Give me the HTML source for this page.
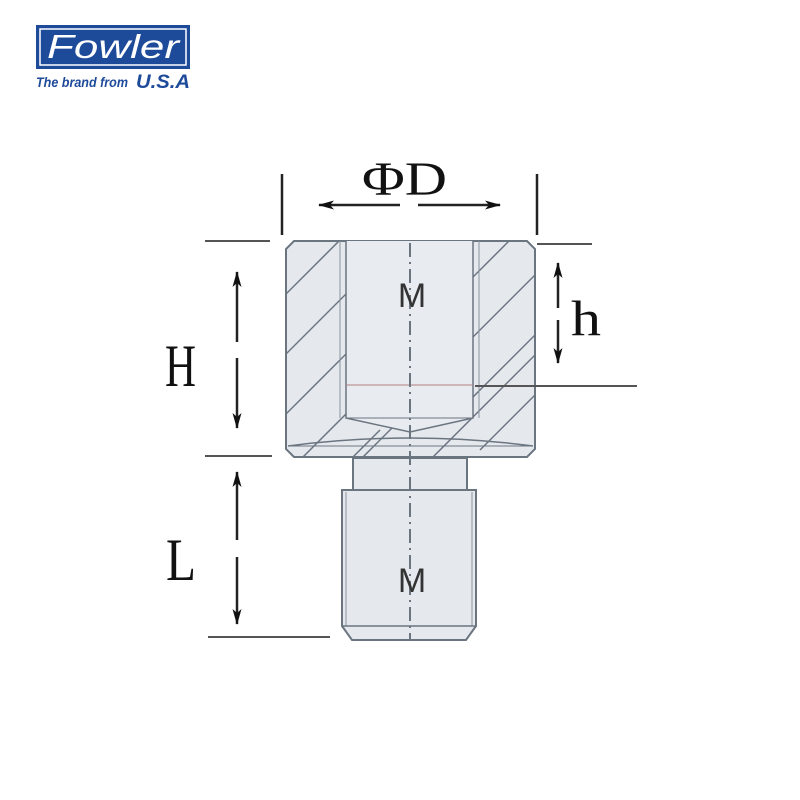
<!DOCTYPE html>
<html><head><style>html,body{margin:0;padding:0;background:#fff;}svg{display:block}</style></head>
<body>
<svg width="800" height="800" viewBox="0 0 800 800" xmlns="http://www.w3.org/2000/svg">
<defs>
<clipPath id="walls">
<path d="M294 241 L527 241 L535 249 L535 449 L527 457 L294 457 L286 449 L286 249 Z M346 241 L346 418 L410 432 L473 418 L473 241 Z" clip-rule="evenodd"/>
</clipPath>
<marker id="ah" viewBox="0 0 16 10" refX="15" refY="5" markerWidth="16" markerHeight="10" markerUnits="userSpaceOnUse" orient="auto">
<path d="M0 0.5 L16 5 L0 9.5 L4 5 Z" fill="#111"/></marker>
</defs>
<!-- logo -->
<rect x="36" y="25" width="154" height="44" fill="#1e4a9a"/>
<rect x="40" y="29" width="146" height="36" fill="none" stroke="#fff" stroke-width="1.5"/>
<text x="113" y="58" font-family="Liberation Sans, sans-serif" font-size="33" font-style="italic" fill="#fff" text-anchor="middle" textLength="132" lengthAdjust="spacingAndGlyphs">Fowler</text>
<text x="36" y="87" font-family="Liberation Sans, sans-serif" font-size="14" font-weight="bold" font-style="italic" fill="#1e4a9a" textLength="92" lengthAdjust="spacingAndGlyphs">The brand from</text>
<text x="136" y="88" font-family="Liberation Sans, sans-serif" font-size="19" font-weight="bold" font-style="italic" fill="#1e4a9a" textLength="54" lengthAdjust="spacingAndGlyphs">U.S.A</text>

<!-- upper body -->
<path d="M294 241 L527 241 L535 249 L535 449 L527 457 L294 457 L286 449 L286 249 Z" fill="#e5e9ee" stroke="#6b7580" stroke-width="2"/>
<g clip-path="url(#walls)" stroke="#6b7580" stroke-width="1.5">
<line x1="260" y1="320" x2="360" y2="220"/><line x1="260" y1="380" x2="380" y2="260"/>
<line x1="260" y1="440" x2="400" y2="300"/><line x1="260" y1="500" x2="420" y2="340"/>
<line x1="300" y1="520" x2="440" y2="380"/><line x1="450" y1="300" x2="560" y2="190"/>
<line x1="450" y1="360" x2="580" y2="230"/><line x1="450" y1="420" x2="580" y2="290"/>
<line x1="480" y1="450" x2="600" y2="330"/><line x1="420" y1="470" x2="560" y2="330"/>
<line x1="340" y1="470" x2="380" y2="430"/>
</g>
<path d="M346 241 L346 418 L410 432 L473 418 L473 241" fill="#e8ecf0" stroke="#6b7580" stroke-width="1.5"/>
<line x1="340" y1="241" x2="340" y2="418" stroke="#8a939c" stroke-width="1"/>
<line x1="479" y1="241" x2="479" y2="418" stroke="#8a939c" stroke-width="1"/>
<line x1="346" y1="418" x2="473" y2="418" stroke="#6b7580" stroke-width="1"/>
<line x1="346" y1="385" x2="473" y2="385" stroke="#b08080" stroke-width="1"/>
<path d="M288 446 Q410 430 533 446" fill="none" stroke="#6b7580" stroke-width="1.5"/>
<line x1="288" y1="446" x2="533" y2="446" stroke="#6b7580" stroke-width="1"/>
<!-- neck -->
<rect x="353" y="458" width="114" height="32" fill="#e5e9ee" stroke="#6b7580" stroke-width="2"/>
<!-- lower body -->
<path d="M342 490 L476 490 L476 626 L466 640 L352 640 L342 626 Z" fill="#e5e9ee" stroke="#6b7580" stroke-width="2"/>
<line x1="346" y1="492" x2="346" y2="626" stroke="#8a939c"/>
<line x1="472" y1="492" x2="472" y2="626" stroke="#8a939c"/>
<line x1="342" y1="626" x2="476" y2="626" stroke="#6b7580" stroke-width="1.5"/>
<!-- center line -->
<line x1="410" y1="243" x2="410" y2="640" stroke="#6b7580" stroke-width="2" stroke-dasharray="14 5 2 5"/>
<text x="412" y="307" font-family="Liberation Sans, sans-serif" font-size="34" fill="#333" text-anchor="middle">M</text>
<text x="412" y="592" font-family="Liberation Sans, sans-serif" font-size="34" fill="#333" text-anchor="middle">M</text>

<!-- dimensions -->
<g stroke="#222" stroke-width="2.5" fill="none">
<line x1="282" y1="174" x2="282" y2="235"/><line x1="537" y1="174" x2="537" y2="235"/>
<line x1="400" y1="205" x2="319" y2="205" marker-end="url(#ah)"/>
<line x1="418" y1="205" x2="500" y2="205" marker-end="url(#ah)"/>
<line x1="237" y1="342" x2="237" y2="272" marker-end="url(#ah)"/>
<line x1="237" y1="358" x2="237" y2="428" marker-end="url(#ah)"/>
<line x1="237" y1="540" x2="237" y2="472" marker-end="url(#ah)"/>
<line x1="237" y1="557" x2="237" y2="624" marker-end="url(#ah)"/>
<line x1="558" y1="308" x2="558" y2="263" marker-end="url(#ah)"/>
<line x1="558" y1="320" x2="558" y2="363" marker-end="url(#ah)"/>
</g>
<g stroke="#555" stroke-width="2">
<line x1="205" y1="241" x2="270" y2="241"/><line x1="205" y1="456" x2="272" y2="456"/>
<line x1="208" y1="637" x2="330" y2="637"/>
<line x1="537" y1="244" x2="592" y2="244"/><line x1="475" y1="386" x2="637" y2="386"/>
</g>
<g font-family="Liberation Serif, serif" fill="#111">
<text x="362" y="195" font-size="48" textLength="85" lengthAdjust="spacingAndGlyphs">ΦD</text>
<text x="165" y="386" font-size="60" textLength="31" lengthAdjust="spacingAndGlyphs">H</text>
<text x="166" y="580" font-size="60" textLength="30" lengthAdjust="spacingAndGlyphs">L</text>
<text x="571" y="335" font-size="50" textLength="30" lengthAdjust="spacingAndGlyphs">h</text>
</g>
</svg>
</body></html>
